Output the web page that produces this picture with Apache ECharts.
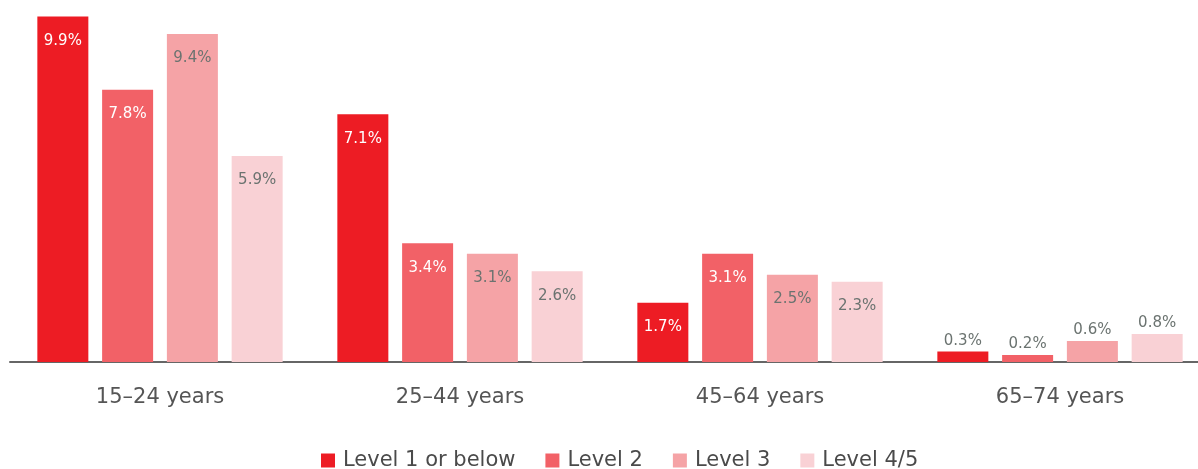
<!DOCTYPE html>
<html>
<head>
<meta charset="utf-8">
<script src="https://cdn.jsdelivr.net/npm/echarts@6/dist/echarts.min.js"></script>
<style>
  html, body { margin: 0; padding: 0; background: #fff; }
  #chart { width: 1198px; height: 469px; }
</style>
</head>
<body>
<div id="chart"></div>
<script>
// categories and series
const ageGroups = ['15–24 years', '25–44 years', '45–64 years', '65–74 years'];
const seriesNames = ['Level 1 or below', 'Level 2', 'Level 3', 'Level 4/5'];
const level1 = [9.9, 7.1, 1.7, 0.3];
const level2 = [7.8, 3.4, 3.1, 0.2];
const level3 = [9.4, 3.1, 2.5, 0.6];
const level45 = [5.9, 2.6, 2.3, 0.8];

const colors = ['#ed1c24', '#f26167', '#f5a3a6', '#f9d1d5'];
const labelColors = ['#ffffff', '#ffffff', '#6b7370', '#6b7370'];
const fontFam = '"DejaVu Sans", sans-serif';

function makeSeries(name, values, idx) {
  return {
    name: name,
    type: 'bar',
    barWidth: 51,
    barGap: '27%',
    itemStyle: { color: colors[idx] },
    data: values.map(v => {
      const small = v < 1;
      return {
        value: v,
        label: {
          show: true,
          position: small ? 'top' : 'insideTop',
          distance: small ? 3 : 17,
          color: small ? '#6b7370' : labelColors[idx],
          fontSize: 15,
          fontFamily: fontFam,
          formatter: p => p.value.toFixed(1) + '%'
        }
      };
    })
  };
}

const chart = echarts.init(document.getElementById('chart'));
chart.setOption({
  animation: false,
  grid: { left: 10, width: 1200, top: 13, bottom: 107, outerBoundsMode: 'none' },
  legend: {
    top: 445,
    left: 316,
    itemWidth: 14,
    itemHeight: 14,
    itemGap: 30,
    icon: 'rect',
    textStyle: { fontSize: 21, color: '#4a4a4a', fontFamily: fontFam, padding: [0, 0, 0, 3] }
  },
  xAxis: {
    type: 'category',
    data: ageGroups,
    axisLine: { lineStyle: { color: '#666', width: 2 } },
    axisTick: { show: false },
    axisLabel: { fontSize: 21, color: '#555', margin: 25, fontFamily: fontFam }
  },
  yAxis: {
    type: 'value',
    min: 0,
    max: 10,
    show: false,
    splitLine: { show: false }
  },
  series: [
    makeSeries(seriesNames[0], level1, 0),
    makeSeries(seriesNames[1], level2, 1),
    makeSeries(seriesNames[2], level3, 2),
    makeSeries(seriesNames[3], level45, 3)
  ]
});
</script>
</body>
</html>
